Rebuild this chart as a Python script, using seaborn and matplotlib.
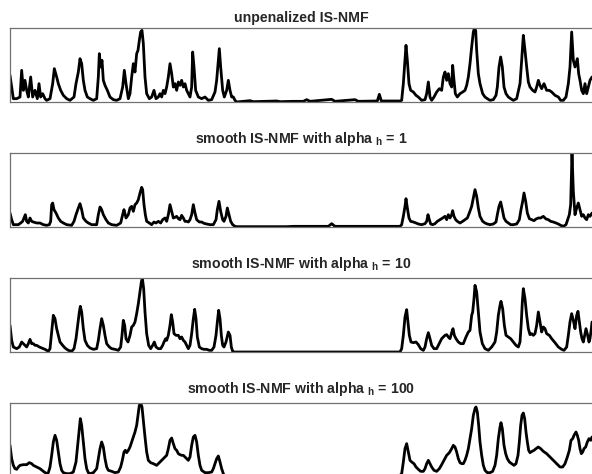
import matplotlib.pyplot as plt
import seaborn as sns

# activations of one component over time frames
t1 = [0, 10, 20, 30, 35, 40, 45, 50, 55, 62, 68, 75, 82, 87, 92, 98, 105, 110, 120, 128, 133, 140, 145, 152, 160, 170, 180,
      192, 198, 205, 210, 215, 220, 225, 232, 240, 250, 260, 265, 268, 272, 276, 280, 285, 292, 300, 310, 320, 330, 338,
      343, 348, 355, 360, 365, 370, 375, 380, 384, 388, 392, 396, 400, 405, 410, 418, 425, 432, 438, 445, 450, 455, 460,
      465, 470, 475, 480, 485, 490, 495, 500, 505, 510, 515, 520, 525, 530, 535, 540, 545, 548, 552, 557, 565, 575, 585,
      595, 605, 615, 620, 625, 628, 632, 638, 643, 650, 655, 660, 665, 670, 675, 680, 720, 730, 800, 810, 850, 880, 890,
      900, 965, 975, 1035, 1045, 1102, 1108, 1114, 1170, 1175, 1180, 1185, 1188, 1192, 1197, 1202, 1210, 1218, 1225,
      1235, 1245, 1250, 1255, 1260, 1265, 1272, 1280, 1288, 1295, 1300, 1305, 1310, 1315, 1320, 1325, 1328, 1332, 1336,
      1342, 1350, 1358, 1365, 1370, 1375, 1380, 1385, 1390, 1393, 1397, 1400, 1405, 1410, 1418, 1425, 1432, 1440, 1450,
      1458, 1462, 1467, 1472, 1477, 1482, 1488, 1495, 1502, 1510, 1520, 1530, 1535, 1540, 1545, 1550, 1555, 1560, 1568,
      1575, 1580, 1585, 1590, 1595, 1602, 1610, 1618, 1625, 1635, 1645, 1652, 1660, 1668, 1675, 1680, 1685, 1690, 1695,
      1702, 1706, 1710, 1715, 1720, 1725, 1730, 1735, 1740, 1746]
h1 = [80, 10, 10, 15, 95, 35, 65, 35, 15, 75, 15, 35, 10, 55, 15, 25, 10, 5, 10, 55, 100, 75, 55, 35, 20, 10, 5,
      15, 55, 90, 130, 115, 65, 35, 15, 10, 5, 10, 75, 145, 105, 125, 65, 50, 35, 15, 7, 5, 10, 45,
      95, 55, 10, 25, 75, 115, 90, 145, 155, 185, 210, 215, 175, 75, 25, 10, 15, 35, 10, 15, 25, 15, 35,
      25, 45, 75, 115, 85, 45, 55, 35, 60, 50, 65, 45, 55, 35, 25, 15, 45, 150, 105, 35, 15, 10, 15,
      5, 7, 30, 65, 125, 160, 105, 35, 15, 35, 65, 35, 15, 15, 5, 0, 4, 1, 3, 1, 2, 2, 7,
      2, 8, 2, 7, 2, 3, 23, 3, 3, 5, 55, 125, 170, 125, 55, 35, 30, 20, 15,
      5, 7, 25, 60, 15, 5, 15, 30, 40, 35, 75, 90, 65, 85, 55, 45, 110, 65, 25,
      15, 25, 30, 35, 50, 75, 115, 165, 210, 220, 215, 155, 85, 55, 25, 15, 10, 5, 7,
      20, 45, 105, 135, 105, 45, 25, 15, 10, 5, 10, 55, 125, 200, 155, 105, 60, 45, 35,
      30, 45, 65, 50, 40, 55, 35, 35, 30, 20, 15, 5, 5, 15, 55, 105, 210, 125, 105,
      130, 85, 65, 35, 25, 55, 25, 45, 65, 75]

t2 = [0, 5, 10, 18, 25, 32, 38, 42, 46, 50, 55, 60, 65, 70, 80, 90, 100, 110, 118, 122, 125, 128, 132, 138, 145, 152,
      160, 170, 185, 192, 198, 205, 210, 215, 220, 228, 235, 245, 260, 265, 270, 275, 280, 288, 295, 305, 320, 332, 338,
      342, 348, 355, 360, 365, 370, 375, 380, 385, 390, 395, 398, 402, 406, 410, 418, 425, 432, 438, 445, 452, 458, 465,
      470, 475, 480, 485, 490, 495, 500, 505, 510, 515, 520, 525, 530, 535, 540, 545, 550, 555, 560, 568, 575, 582, 590,
      600, 610, 618, 622, 627, 632, 638, 642, 648, 652, 657, 662, 668, 675, 680, 830, 850, 955, 965, 975, 1170, 1175,
      1180, 1185, 1188, 1192, 1197, 1202, 1210, 1218, 1225, 1235, 1245, 1250, 1254, 1258, 1262, 1268, 1275, 1282, 1290,
      1298, 1305, 1310, 1315, 1320, 1325, 1328, 1332, 1337, 1342, 1350, 1358, 1365, 1372, 1378, 1385, 1390, 1395, 1400,
      1405, 1410, 1418, 1425, 1432, 1440, 1450, 1458, 1462, 1467, 1472, 1477, 1482, 1488, 1495, 1502, 1510, 1520, 1528,
      1533, 1538, 1542, 1547, 1552, 1558, 1565, 1572, 1578, 1585, 1592, 1600, 1608, 1615, 1622, 1630, 1638, 1645, 1652,
      1660, 1668, 1673, 1678, 1682, 1686, 1690, 1695, 1700, 1705, 1710, 1715, 1720, 1725, 1730, 1735, 1740, 1746]
h2 = [42, 22, 7, 7, 7, 12, 17, 27, 37, 17, 12, 27, 17, 15, 12, 12, 7, 5, 7, 17, 67, 72, 52, 42, 27, 17,
      12, 7, 5, 17, 37, 57, 70, 52, 27, 17, 12, 7, 7, 37, 60, 52, 37, 22, 12, 7, 5, 12, 37,
      52, 27, 37, 57, 62, 47, 67, 72, 82, 102, 119, 112, 67, 37, 17, 12, 7, 15, 12, 17, 12, 22, 27,
      17, 37, 67, 47, 27, 29, 32, 25, 22, 35, 27, 17, 17, 15, 22, 37, 67, 42, 22, 15, 15, 11, 9,
      7, 7, 22, 52, 77, 47, 22, 17, 32, 57, 37, 17, 7, 2, 1, 1, 2, 2, 10, 2, 2, 7,
      32, 62, 85, 57, 27, 17, 15, 12, 9, 7, 10, 17, 37, 22, 9, 7, 10, 17, 22,
      27, 32, 22, 37, 27, 37, 49, 32, 22, 17, 12, 17, 22, 27, 42, 62, 87, 112, 92,
      57, 32, 17, 12, 9, 7, 9, 15, 37, 62, 75, 52, 27, 17, 12, 7, 7, 9, 22,
      52, 77, 102, 77, 42, 25, 22, 19, 24, 27, 27, 32, 24, 22, 17, 15, 12, 9, 5,
      2, 7, 22, 37, 67, 222, 107, 37, 57, 72, 52, 32, 37, 27, 22, 37, 32, 42]

t3 = [0, 5, 10, 20, 28, 35, 40, 45, 50, 55, 60, 65, 70, 75, 80, 88, 95, 105, 115, 120, 125, 130, 135, 140, 145, 150,
      158, 165, 175, 185, 192, 198, 203, 208, 211, 215, 220, 225, 232, 240, 250, 260, 265, 270, 275, 280, 285, 290, 298,
      305, 315, 325, 332, 336, 340, 344, 348, 354, 360, 365, 370, 375, 380, 385, 390, 394, 397, 401, 405, 410, 416, 422,
      428, 433, 438, 445, 452, 458, 462, 467, 470, 475, 480, 484, 488, 492, 498, 505, 510, 515, 520, 525, 530, 535, 540,
      545, 550, 554, 558, 562, 568, 575, 582, 590, 598, 605, 612, 618, 622, 626, 630, 634, 638, 642, 648, 655, 660, 664,
      668, 670, 830, 850, 1170, 1175, 1180, 1185, 1190, 1194, 1198, 1203, 1210, 1218, 1225, 1232, 1240, 1245, 1250,
      1255, 1260, 1265, 1272, 1280, 1285, 1290, 1295, 1300, 1305, 1310, 1315, 1320, 1325, 1329, 1333, 1338, 1345, 1352,
      1360, 1368, 1375, 1380, 1385, 1388, 1392, 1395, 1400, 1405, 1410, 1417, 1425, 1435, 1445, 1455, 1460, 1465, 1470,
      1473, 1478, 1483, 1488, 1495, 1502, 1510, 1518, 1525, 1530, 1534, 1537, 1540, 1545, 1550, 1555, 1560, 1565, 1570,
      1575, 1580, 1585, 1590, 1595, 1600, 1605, 1610, 1618, 1625, 1635, 1645, 1655, 1662, 1670, 1675, 1680, 1685, 1690,
      1695, 1700, 1704, 1708, 1712, 1716, 1720, 1724, 1728, 1733, 1737, 1740, 1744, 1746]
h3 = [80, 35, 15, 10, 15, 30, 25, 20, 15, 25, 38, 25, 25, 20, 20, 15, 12, 8, 2, 10, 60, 110, 100, 70, 50, 30,
      20, 12, 5, 2, 10, 40, 80, 120, 137, 120, 70, 35, 20, 12, 8, 10, 35, 70, 100, 80, 50, 25, 15,
      10, 8, 5, 15, 50, 95, 80, 40, 30, 50, 75, 80, 90, 115, 145, 180, 210, 222, 190, 120, 55, 20, 10,
      20, 30, 15, 10, 10, 20, 30, 40, 35, 50, 80, 112, 90, 55, 50, 50, 40, 45, 35, 30, 20, 10, 20,
      55, 100, 128, 100, 45, 15, 10, 8, 8, 5, 5, 15, 50, 90, 125, 100, 50, 20, 15, 30, 60, 50, 15,
      2, 0, 0, 0, 0, 10, 50, 105, 127, 90, 50, 30, 28, 30, 22, 10, 5, 15, 40,
      58, 40, 20, 10, 10, 20, 30, 40, 45, 50, 52, 45, 40, 58, 70, 50, 40, 30, 25,
      25, 45, 60, 65, 110, 120, 160, 200, 180, 120, 60, 25, 10, 5, 15, 30, 60, 110, 140,
      152, 130, 80, 50, 45, 40, 30, 20, 15, 30, 90, 150, 190, 160, 110, 70, 52, 55, 50,
      55, 80, 120, 90, 60, 75, 70, 55, 50, 40, 28, 15, 8, 5, 15, 50, 90, 115, 95,
      70, 110, 122, 90, 60, 40, 30, 50, 70, 50, 30, 40, 70, 90]

t4 = [0, 5, 10, 15, 20, 25, 30, 40, 50, 58, 65, 70, 80, 90, 100, 110, 115, 120, 125, 130, 135, 140, 145, 150, 155,
      160, 170, 180, 190, 198, 203, 208, 211, 215, 220, 225, 230, 235, 240, 250, 260, 265, 270, 275, 280, 285, 290, 295,
      305, 315, 325, 332, 337, 342, 346, 350, 355, 360, 365, 370, 375, 380, 384, 388, 392, 396, 400, 405, 410, 415, 422,
      430, 440, 450, 460, 470, 475, 480, 485, 490, 495, 500, 505, 510, 515, 520, 525, 530, 535, 540, 545, 550, 555, 560,
      565, 570, 575, 585, 595, 605, 610, 615, 620, 625, 630, 635, 640, 645, 830, 850, 1165, 1175, 1180, 1185, 1190, 1195,
      1200, 1205, 1212, 1218, 1225, 1232, 1240, 1245, 1250, 1255, 1260, 1265, 1272, 1280, 1288, 1295, 1302, 1310, 1318,
      1325, 1330, 1335, 1340, 1345, 1350, 1355, 1360, 1365, 1370, 1375, 1380, 1385, 1390, 1395, 1398, 1402, 1406, 1410,
      1415, 1420, 1425, 1432, 1440, 1448, 1455, 1460, 1465, 1470, 1473, 1477, 1482, 1487, 1492, 1498, 1505, 1512, 1518,
      1524, 1528, 1532, 1536, 1540, 1544, 1548, 1552, 1556, 1560, 1566, 1572, 1578, 1585, 1592, 1600, 1610, 1620, 1630,
      1640, 1650, 1658, 1665, 1672, 1678, 1683, 1688, 1692, 1698, 1702, 1706, 1710, 1714, 1718, 1722, 1727, 1732, 1737,
      1742, 1746]
h4 = [95, 55, 35, 25, 23, 30, 35, 37, 37, 43, 40, 35, 30, 25, 17, 10, 13, 30, 65, 105, 125, 110, 75, 40, 20,
      13, 10, 10, 15, 45, 95, 145, 175, 155, 105, 55, 25, 13, 10, 13, 25, 55, 85, 105, 90, 55, 30, 20,
      17, 13, 15, 30, 50, 75, 80, 73, 80, 90, 105, 120, 135, 155, 185, 215, 222, 210, 170, 120, 75, 50, 43,
      40, 35, 45, 55, 65, 85, 110, 117, 100, 85, 80, 70, 67, 65, 65, 60, 55, 50, 60, 95, 120, 125, 105,
      65, 35, 20, 13, 13, 15, 25, 40, 55, 63, 45, 25, 10, 0, 0, 0, 0, 10, 45, 85, 100, 75,
      50, 45, 40, 30, 23, 17, 17, 25, 40, 50, 40, 30, 20, 17, 25, 37, 50, 65, 73,
      85, 95, 90, 75, 55, 43, 40, 40, 50, 65, 85, 115, 145, 185, 205, 210, 195, 155, 105,
      65, 35, 20, 13, 13, 17, 35, 65, 115, 150, 163, 145, 95, 70, 55, 45, 40, 35, 40,
      65, 105, 155, 185, 192, 175, 135, 105, 80, 73, 77, 80, 85, 90, 85, 77, 70, 60, 50,
      40, 30, 30, 40, 60, 80, 110, 115, 125, 135, 125, 110, 85, 70, 75, 85, 90, 105, 115,
      110, 120]

titles = ['unpenalized IS-NMF',
          r'smooth IS-NMF with alpha ${}_{\mathbf{h}}$ = 1',
          r'smooth IS-NMF with alpha ${}_{\mathbf{h}}$ = 10',
          r'smooth IS-NMF with alpha ${}_{\mathbf{h}}$ = 100']

sns.set_style('white')
plt.rcParams['font.family'] = ['Liberation Sans', 'DejaVu Sans']
plt.rcParams['mathtext.fontset'] = 'custom'
plt.rcParams['mathtext.rm'] = 'Liberation Sans'
plt.rcParams['mathtext.bf'] = 'Liberation Sans:bold'

fig = plt.figure(figsize=(5.92, 4.74), dpi=100)

series = [(t1, h1), (t2, h2), (t3, h3), (t4, h4)]
tops = [28, 153, 278, 403]   # pixel rows of the panel tops
pads = [4.3, 7.2, 7.2, 7.2]

for (t, h), title, top, pad in zip(series, titles, tops, pads):
    ax = fig.add_axes([10 / 592, 1 - (top + 74) / 474, 582 / 592, 74 / 474])
    sns.lineplot(x=t, y=h, ax=ax, color='black', linewidth=2, sort=False)
    ax.set_xlim(0, 1746)
    ax.set_ylim(0, 222)
    ax.set_xticks([])
    ax.set_yticks([])
    for side, sp in ax.spines.items():
        sp.set_color('#707070')
        sp.set_linewidth(0.9)
    ax.spines['right'].set_visible(False)
    ax.set_title(title, fontsize=10.2, fontweight='bold', pad=pad)

fig.savefig('out.png', dpi=100)
